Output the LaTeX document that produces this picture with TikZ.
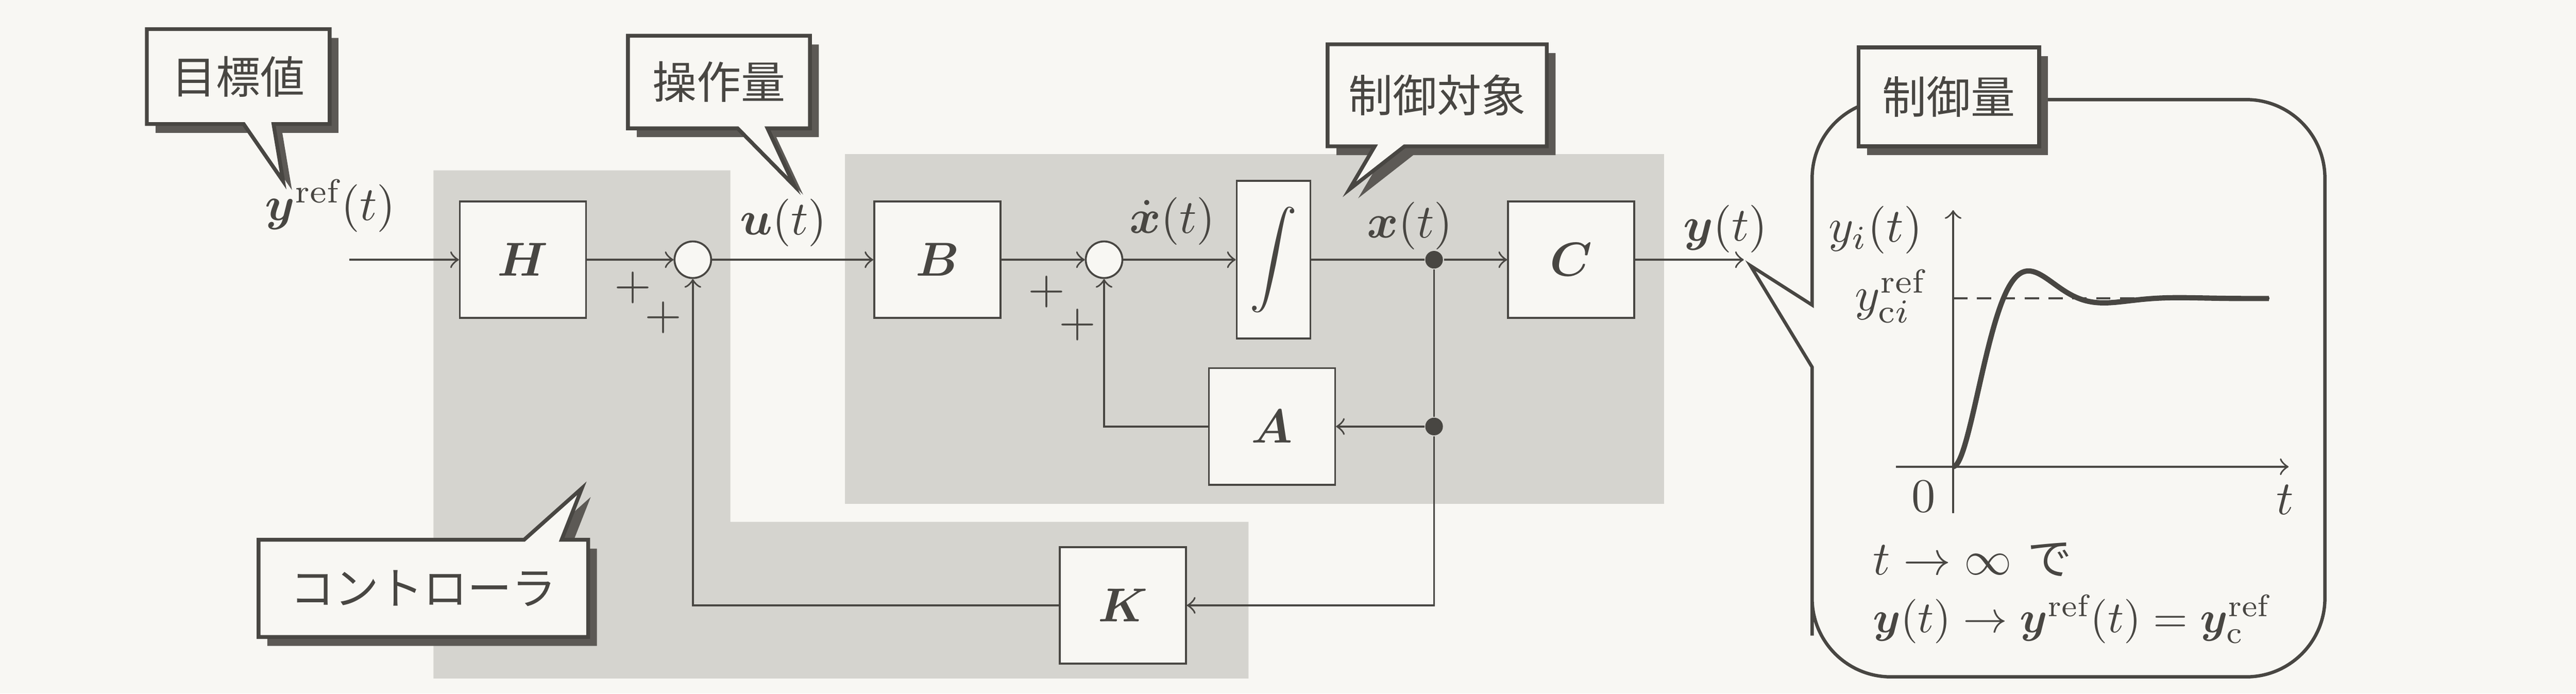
\documentclass[tikz,border=0pt]{standalone}
\usepackage{fontspec}
\usepackage{bm}
\usepackage{tikz}
\usetikzlibrary{shapes.callouts,shadows}
\newfontfamily\jp{Noto Sans CJK JP}[Scale=0.93]
\definecolor{ink}{RGB}{72,70,66}
\definecolor{paper}{RGB}{248,247,243}
\definecolor{dots}{RGB}{213,212,207}
\definecolor{shadowc}{RGB}{92,89,85}

\begin{document}
\begin{tikzpicture}[x=0.288cm,y=0.288cm,color=ink,thin,
  blk/.style={draw,rectangle,fill=paper,minimum width=0.93cm,minimum height=0.86cm,inner sep=0pt},
  sum/.style={draw,circle,fill=paper,minimum size=0.27cm,inner sep=0pt},
  dot/.style={circle,fill=ink,minimum size=0.13cm,inner sep=0pt},
  shade/.style={drop shadow={shadow xshift=0.065cm,shadow yshift=-0.065cm,fill=shadowc,opacity=1}},
  call/.style={rectangle callout,draw=ink,line width=0.8pt,fill=paper,inner sep=0pt,
    callout pointer width=0.22cm,font=\jp,shade},
  tag/.style={draw=ink,line width=0.8pt,fill=paper,inner sep=0pt,font=\jp,shade}]
\useasboundingbox[fill=paper] (0,0) rectangle (65.96,17.76);

% shaded areas
\fill[dots] (11.10,13.40) -- (18.70,13.40) -- (18.70,4.40) -- (31.97,4.40) -- (31.97,0.39) -- (11.10,0.39) -- cycle;
\fill[dots] (21.64,13.81) rectangle (42.61,4.86);

\coordinate (yin) at(8.95,11.11);
\node [blk] (H) at(13.39,11.11){$\bm{H}$};
\node [sum] (s1) at(17.74,11.11){};
\node [blk] (B) at(24.00,11.11){$\bm{B}$};
\node [sum] (s2) at(28.27,11.11){};
\node [draw,rectangle,fill=paper,minimum width=0.544cm,minimum height=1.164cm,inner sep=0pt] (int) at(32.61,11.11){$\displaystyle\int$};
\node [dot] (d1) at(36.72,11.11){};
\node [blk] (C) at(40.23,11.11){$\bm{C}$};
\coordinate (yout) at(44.65,11.11);
\node [blk] (A) at(32.57,6.84){$\bm{A}$};
\node [dot] (d2) at(36.72,6.84){};
\node [blk] (K) at(28.75,2.26){$\bm{K}$};

\node (yref) at(8.46,12.49){$\bm{y}^{\mathrm{ref}}(t)$};
\node (u) at(20.06,12.06){$\bm{u}(t)$};
\node (xd) at(30.02,12.10){$\dot{\bm{x}}(t)$};
\node (x) at(36.10,11.98){$\bm{x}(t)$};
\node (y) at(44.18,11.90){$\bm{y}(t)$};
\node (p1) at(16.20,10.40){$+$};
\node (p2) at(16.99,9.63){$+$};
\node (p3) at(26.80,10.29){$+$};
\node (p4) at(27.59,9.44){$+$};

\draw[->](yin) -- (H);
\draw[->](H) -- (s1);
\draw[->](s1) -- (B);
\draw[->](B) -- (s2);
\draw[->](s2) -- (int);
\draw(int) -- (d1);
\draw[->](d1) -- (C);
\draw[->](C) -- (yout);
\draw(d1) -- (d2);
\draw[->](d2) -- (A);
\draw[->](A) -| (s2);
\draw[->](d2) |- (K);
\draw[->](K) -| (s1);

% callouts
\coordinate (t1) at(7.25,13.12);
\coordinate (t2) at(20.34,13.00);
\coordinate (t3) at(34.55,12.91);
\node [call,callout absolute pointer=(t1),minimum width=1.348cm,minimum height=0.700cm] (goal) at(6.10,15.80){目標値};
\node [call,callout absolute pointer=(t2),minimum width=1.342cm,minimum height=0.683cm] (input) at(18.41,15.66){操作量};
\node [call,callout absolute pointer=(t3),minimum width=1.616cm,minimum height=0.752cm] (plant) at(36.80,15.32){制御対象};
\draw[line width=0.8pt,fill=paper,shade] (6.62,3.94) -- (13.42,3.94) -- (14.90,5.26) -- (14.38,3.94) -- (15.06,3.94)
  -- (15.06,1.45) -- (6.62,1.45) -- cycle;
\node [font=\jp] (ctrl) at(10.84,2.70){コントローラ};

% output balloon
\draw[line width=0.7pt] (44.82,10.96) -- (46.40,9.95) -- (46.40,11.0) [rounded corners=0.58cm] -- (46.40,15.21) -- (59.53,15.21)
  -- (59.53,0.43) -- (46.40,0.43) -- (46.40,3.5) [sharp corners] -- (46.40,8.36) -- cycle;
\node [tag,minimum width=1.333cm,minimum height=0.729cm] (outtag) at(49.90,15.28){制御量};

\draw[->](48.55,5.81) -- (58.60,5.81);
\draw[->](50.01,4.62) -- (50.01,12.38);
\draw[densely dashed](50.01,10.12) -- (58.11,10.12);
\draw[line width=1.1pt] plot[domain=0:15.2,samples=120,smooth]
  ({50.01+0.532*\x},{5.81+4.31*(1-exp(-0.5*\x)*(cos(deg(0.866*\x))+0.577*sin(deg(0.866*\x))))});
\node[anchor=east] (yi) at(49.65,11.87){$y_i(t)$};
\node[anchor=east] (yc) at(49.75,10.17){$y_{\mathrm{c}i}^{\mathrm{ref}}$};
\node (zero) at(49.25,5.05){$0$};
\node (tt) at(58.51,4.96){$t$};
\node[anchor=west,inner sep=0pt] (l1) at(47.93,3.43){$t\to\infty$ {\jp で}};
\node[anchor=west,inner sep=0pt,scale=0.93] (l2) at(47.93,1.91){$\bm{y}(t)\to\bm{y}^{\mathrm{ref}}(t)=\bm{y}_{\mathrm{c}}^{\mathrm{ref}}$};
\end{tikzpicture}
\end{document}
